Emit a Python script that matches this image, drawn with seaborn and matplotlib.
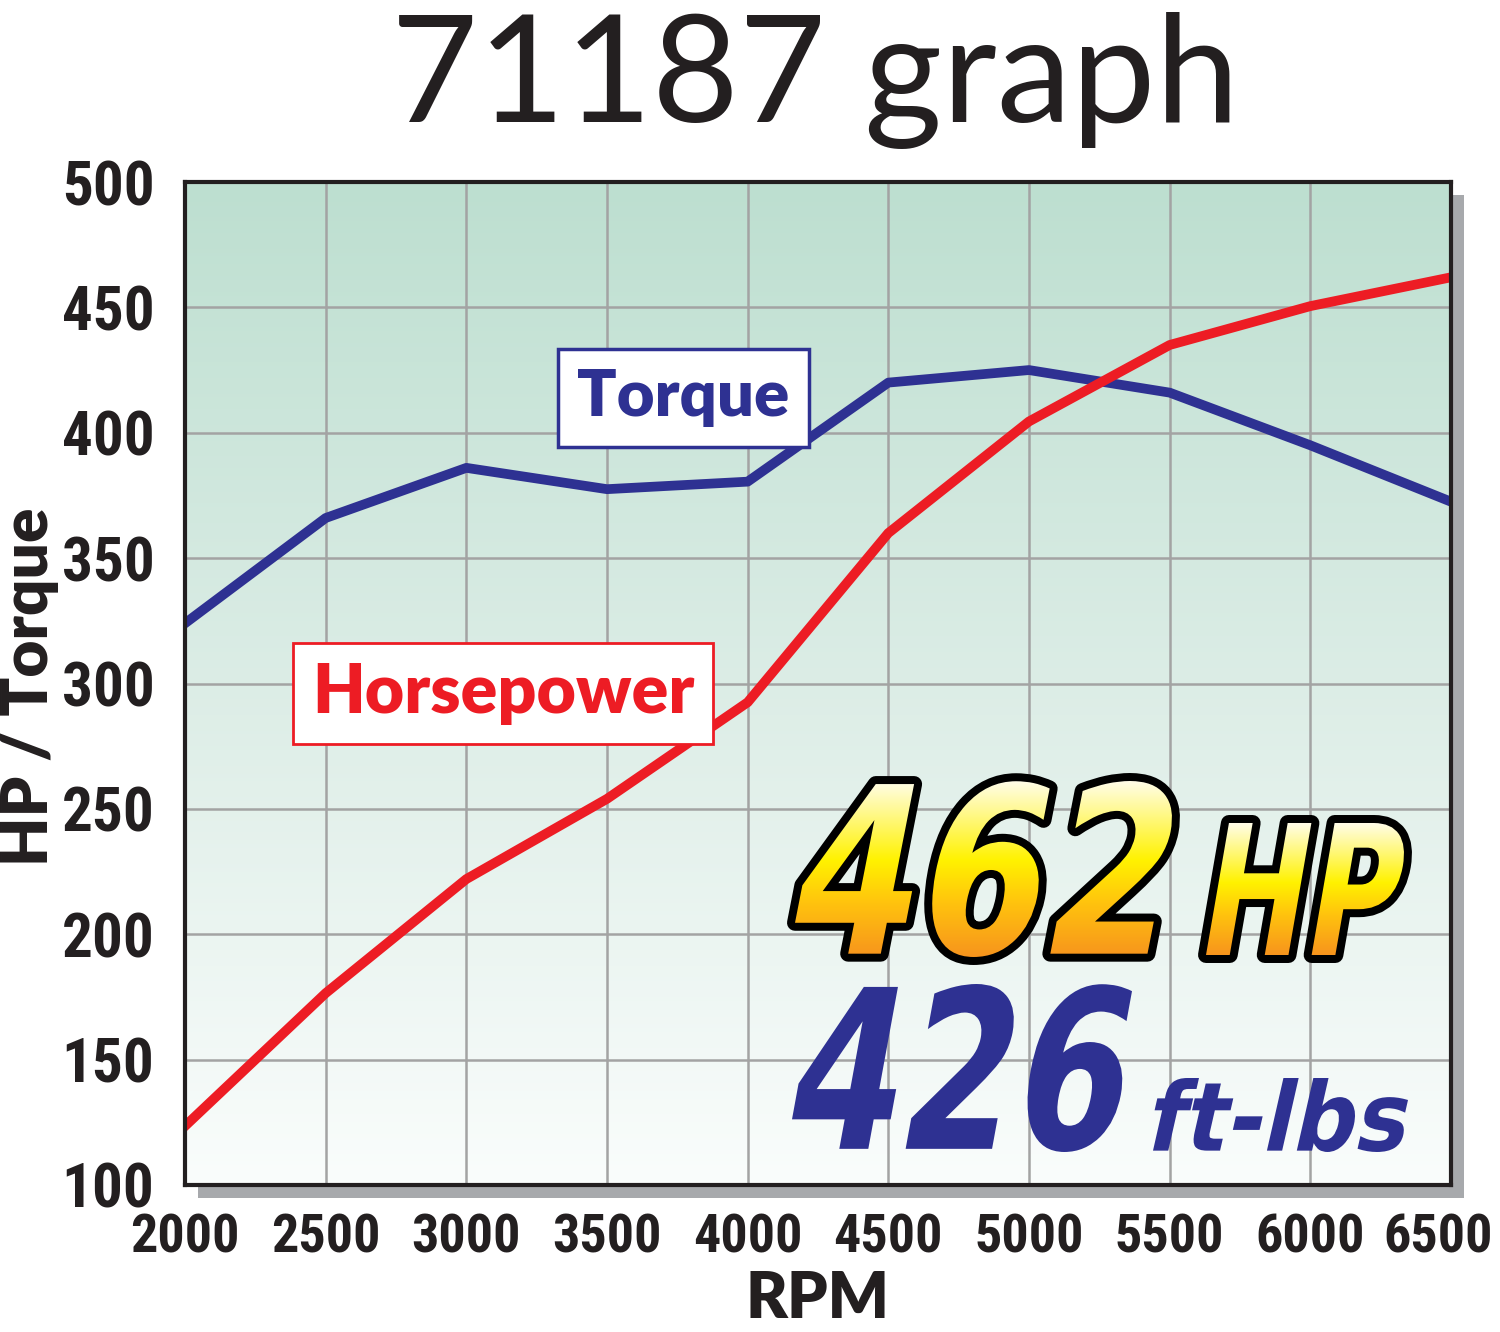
import matplotlib.pyplot as plt
import numpy as np
import pandas as pd
import seaborn as sns
from matplotlib import font_manager
from matplotlib.textpath import TextPath
from matplotlib.font_manager import FontProperties
from matplotlib.patches import PathPatch, Rectangle
from matplotlib.transforms import Affine2D, ScaledTranslation
from matplotlib.colors import LinearSegmentedColormap

# dyno numbers
rpm = [2000, 2500, 3000, 3500, 4000, 4500, 5000, 5500, 6000, 6500]
torque = [324, 366, 386, 377.5, 380.5, 420, 425, 416, 395, 372.5]
horsepower = [123.5, 176.5, 222, 254, 292.5, 360, 404.5, 435, 450.5, 462]

x_ticks = [2000, 2500, 3000, 3500, 4000, 4500, 5000, 5500, 6000, 6500]
y_ticks = [100, 150, 200, 250, 300, 350, 400, 450, 500]

title = "71187 graph"
peak_hp = "462"
peak_tq = "426"

blue = "#2e3192"
red = "#ed1c24"

df = pd.DataFrame({"rpm": rpm, "torque": torque, "hp": horsepower})

names = set(font_manager.get_font_names())
narrow = next((f for f in ["Liberation Sans Narrow", "DejaVu Sans Condensed", "Roboto Condensed"]
               if f in names), "DejaVu Sans")
label_font = "Lato" if "Lato" in names else "DejaVu Sans"

W, H = 1500, 1332
fig = plt.figure(figsize=(W / 100, H / 100), dpi=100)

# background layer (shadow), pixel coords
bg = fig.add_axes([0, 0, 1, 1], zorder=0)
bg.set_xlim(0, W)
bg.set_ylim(0, H)
bg.axis("off")

ax_l, ax_b, ax_w, ax_h = 185, 147, 1266, 1003
bg.add_patch(Rectangle((ax_l + 13, ax_b - 13), ax_w, ax_h, fc="#a7a9ac", ec="none"))

ax = fig.add_axes([ax_l / W, ax_b / H, ax_w / W, ax_h / H], zorder=1)

# green -> white gradient behind the grid
cmap_bg = LinearSegmentedColormap.from_list("bg", ["#fafdfc", "#dcede6", "#bddfd0"])
ax.imshow(np.linspace(0, 1, 256).reshape(-1, 1), extent=[2000, 6500, 100, 500],
          cmap=cmap_bg, aspect="auto", origin="lower", zorder=0)

sns.lineplot(data=df, x="rpm", y="torque", color=blue, lw=7, ax=ax, zorder=3)
sns.lineplot(data=df, x="rpm", y="hp", color=red, lw=7, ax=ax, zorder=3)

ax.set_xlim(2000, 6500)
ax.set_ylim(100, 500)
ax.set_xticks(x_ticks)
ax.set_yticks(y_ticks)
ax.grid(True, color="#a3a3a3", lw=1.8)
ax.set_axisbelow(False)
for gl in ax.get_xgridlines() + ax.get_ygridlines():
    gl.set_zorder(1)
for s in ax.spines.values():
    s.set_linewidth(3)
    s.set_color("#231f20")
    s.set_zorder(5)
ax.tick_params(length=0)
ax.tick_params(axis="y", pad=22)
ax.tick_params(axis="x", pad=20)
for t in ax.get_yticklabels():
    t.set_fontfamily(narrow)
    t.set_fontweight("bold")
    t.set_fontsize(44)
    t.set_color("#231f20")
for t in ax.get_xticklabels():
    t.set_fontfamily(narrow)
    t.set_fontweight("bold")
    t.set_fontsize(39)
    t.set_color("#231f20")
# last rpm label sits tight against the right edge, as in the sheet
last = ax.get_xticklabels()[-1]
last.set_transform(last.get_transform() + ScaledTranslation(-9 / 72, 0, fig.dpi_scale_trans))
ax.set_xlabel("")
ax.set_ylabel("")

ax.text(3771, 414, "Torque", color=blue, fontsize=47, fontweight="heavy",
        family=label_font, ha="center", va="center", zorder=6,
        bbox=dict(boxstyle="square,pad=0.3", fc="white", ec=blue, lw=2.5))
ax.text(3131, 296, "Horsepower", color=red, fontsize=49, fontweight="heavy",
        family=label_font, ha="center", va="center", zorder=6,
        bbox=dict(boxstyle="square,pad=0.28", fc="white", ec=red, lw=2))

fig.text(815 / W, 1210 / H, title, fontsize=108, family=label_font,
         ha="center", va="baseline", color="#231f20")
fig.text(30 / W, 645 / H, "HP / Torque", fontsize=46, fontweight="heavy",
         family=label_font, rotation=90, ha="center", va="center", color="#231f20")
fig.text(818 / W, 3 / H, "RPM", fontsize=46, fontweight="heavy",
         family=label_font, ha="center", va="bottom", color="#231f20")

# overlay for the big numbers
top = fig.add_axes([0, 0, 1, 1], zorder=3)
top.patch.set_alpha(0)
top.axis("off")

prop = FontProperties(family="DejaVu Sans", weight="bold")


def fit_path(s, x0, y0, w, h):
    tp = TextPath((0, 0), s, size=100, prop=prop)
    p = Affine2D().skew_deg(14, 0).transform_path(tp)
    bb = p.get_extents()
    tr = Affine2D().translate(-bb.x0, -bb.y0).scale(w / bb.width, h / bb.height).translate(x0, y0)
    return tr.transform_path(p)


cmap_gold = LinearSegmentedColormap.from_list(
    "gold", [(0, "#f7941d"), (0.3, "#ffc20e"), (0.55, "#fff200"), (1, "#fffde8")])


def gold_text(s, x0, y0, w, h):
    path = fit_path(s, x0, y0, w, h)
    top.add_patch(PathPatch(path, fc="black", ec="black", lw=11.5, joinstyle="round", zorder=1))
    clip = PathPatch(path, fc="none", ec="none", zorder=0)
    top.add_patch(clip)
    im = top.imshow(np.linspace(0, 1, 256).reshape(-1, 1), extent=[x0, x0 + w, y0, y0 + h],
                    cmap=cmap_gold, aspect="auto", origin="lower", zorder=2)
    im.set_clip_path(clip)


def blue_text(s, x0, y0, w, h):
    top.add_patch(PathPatch(fit_path(s, x0, y0, w, h), fc=blue, ec="none", zorder=2))


gold_text(peak_hp, 795, 375, 377, 176)
gold_text("HP", 1206, 377, 198, 132)
blue_text(peak_tq, 792, 180, 340, 168)
blue_text("ft-lbs", 1153, 180, 255, 74)

top.set_xlim(0, W)
top.set_ylim(0, H)

fig.savefig("out.png", dpi=100)
